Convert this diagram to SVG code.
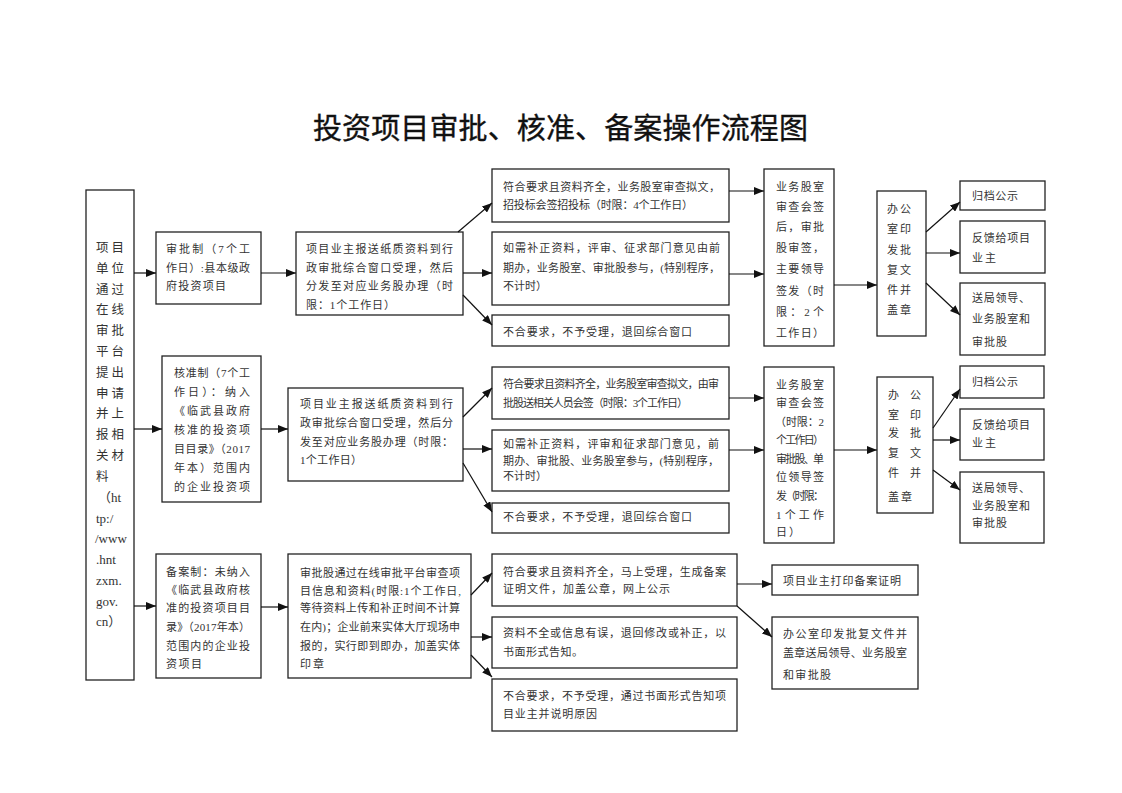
<svg xmlns="http://www.w3.org/2000/svg" width="1122" height="793" viewBox="0 0 1122 793">
<style>
.box{fill:#fff;stroke:#222;stroke-width:1.3}
.t{font-family:"Liberation Serif","Noto Sans CJK SC",serif;font-size:11px;fill:#333}
.l{font-family:"Liberation Serif","Noto Sans CJK SC",serif;font-size:12.5px;fill:#333}
.lat{font-family:"Liberation Serif","Noto Sans CJK SC",serif;font-size:13px;fill:#333}
.title{font-family:"Noto Sans CJK SC",sans-serif;font-size:29px;fill:#111;stroke:#111;stroke-width:0.35;font-weight:400}
.c line{stroke:#111;stroke-width:1.2;fill:none;marker-end:url(#ah)}
</style>
<defs>
<marker id="ah" markerUnits="userSpaceOnUse" markerWidth="10" markerHeight="8" refX="10" refY="4" orient="auto">
<path d="M0,0 L10,4 L0,8 z" fill="#111"/>
</marker>
</defs>
<rect width="1122" height="793" fill="#fff"/>
<text class="title" x="313" y="139" textLength="495" lengthAdjust="spacing">投资项目审批、核准、备案操作流程图</text>

<g id="n-left">
<rect class="box" x="86" y="190" width="48" height="490"/>
<text class="l" x="96" y="252" textLength="28">项目</text>
<text class="l" x="96" y="273" textLength="28">单位</text>
<text class="l" x="96" y="294" textLength="28">通过</text>
<text class="l" x="96" y="314" textLength="28">在线</text>
<text class="l" x="96" y="335" textLength="28">审批</text>
<text class="l" x="96" y="356" textLength="28">平台</text>
<text class="l" x="96" y="377" textLength="28">提出</text>
<text class="l" x="96" y="398" textLength="28">申请</text>
<text class="l" x="96" y="418" textLength="28">并上</text>
<text class="l" x="96" y="439" textLength="28">报相</text>
<text class="l" x="96" y="460" textLength="28">关材</text>
<text class="l" x="96" y="481">料</text>
<text class="lat" x="98" y="502">（ht</text>
<text class="lat" x="96" y="523">tp:/</text>
<text class="lat" x="95" y="543">/www</text>
<text class="lat" x="96" y="564">.hnt</text>
<text class="lat" x="96" y="585">zxm.</text>
<text class="lat" x="96" y="606">gov.</text>
<text class="lat" x="96" y="626">cn）</text>
</g>

<g id="n-r1-type">
<rect class="box" x="156" y="232" width="105" height="72"/>
<text class="t" x="166" y="253" textLength="84">审批制（7个工</text>
<text class="t" x="166" y="272" textLength="84">作日）:县本级政</text>
<text class="t" x="166" y="290" textLength="60">府投资项目</text>
</g>
<g id="n-r1-submit">
<rect class="box" x="296" y="232" width="167" height="83"/>
<text class="t" x="306" y="253" textLength="147">项目业主报送纸质资料到行</text>
<text class="t" x="306" y="271.5" textLength="147">政审批综合窗口受理，然后</text>
<text class="t" x="306" y="290" textLength="147">分发至对应业务股办理（时</text>
<text class="t" x="306" y="308.5" textLength="89">限：1个工作日）</text>
</g>
<g id="n-r1-ok">
<rect class="box" x="492" y="169" width="237" height="53"/>
<text class="t" x="503" y="191" textLength="217">符合要求且资料齐全，业务股室审查拟文，</text>
<text class="t" x="503" y="209" textLength="190">招投标会签招投标（时限：4个工作日）</text>
</g>
<g id="n-r1-fix">
<rect class="box" x="492" y="232" width="237" height="73"/>
<text class="t" x="503" y="252" textLength="217">如需补正资料，评审、征求部门意见由前</text>
<text class="t" x="503" y="272" textLength="217">期办，业务股室、审批股参与，(特别程序，</text>
<text class="t" x="503" y="290" textLength="44">不计时）</text>
</g>
<g id="n-r1-no">
<rect class="box" x="492" y="315" width="237" height="31"/>
<text class="t" x="503" y="336" textLength="189">不合要求，不予受理，退回综合窗口</text>
</g>
<g id="n-r1-sign">
<rect class="box" x="764" y="169" width="70" height="177"/>
<text class="t" x="776" y="191" textLength="48">业务股室</text>
<text class="t" x="776" y="211" textLength="48">审查会签</text>
<text class="t" x="776" y="231" textLength="48">后，审批</text>
<text class="t" x="776" y="252" textLength="48">股审签，</text>
<text class="t" x="776" y="273" textLength="48">主要领导</text>
<text class="t" x="776" y="295" textLength="48">签发（时</text>
<text class="t" x="776" y="316" textLength="48">限：2个</text>
<text class="t" x="776" y="337" textLength="48">工作日）</text>
</g>
<g id="n-r1-office">
<rect class="box" x="877" y="191" width="49" height="145"/>
<text class="t" x="887" y="213" textLength="24">办公</text>
<text class="t" x="887" y="233" textLength="24">室印</text>
<text class="t" x="887" y="254" textLength="24">发批</text>
<text class="t" x="887" y="274" textLength="24">复文</text>
<text class="t" x="887" y="294" textLength="24">件并</text>
<text class="t" x="887" y="314" textLength="24">盖章</text>
</g>
<g id="n-r1-archive">
<rect class="box" x="960" y="181" width="85" height="29"/>
<text class="t" x="972" y="200" textLength="46">归档公示</text>
</g>
<g id="n-r1-feedback">
<rect class="box" x="960" y="221" width="85" height="52"/>
<text class="t" x="972" y="242" textLength="58">反馈给项目</text>
<text class="t" x="972" y="262" textLength="24">业主</text>
</g>
<g id="n-r1-send">
<rect class="box" x="960" y="283" width="85" height="72"/>
<text class="t" x="972" y="302" textLength="58">送局领导、</text>
<text class="t" x="972" y="323" textLength="58">业务股室和</text>
<text class="t" x="972" y="346" textLength="35">审批股</text>
</g>

<g id="n-r2-type">
<rect class="box" x="162" y="356" width="99" height="146"/>
<text class="t" x="174" y="377" textLength="76">核准制（7个工</text>
<text class="t" x="174" y="396" textLength="76">作日）：纳入</text>
<text class="t" x="174" y="415" textLength="76">《临武县政府</text>
<text class="t" x="174" y="434" textLength="76">核准的投资项</text>
<text class="t" x="174" y="453" textLength="76">目目录》（2017</text>
<text class="t" x="174" y="472" textLength="76">年本）范围内</text>
<text class="t" x="174" y="491" textLength="76">的企业投资项</text>
</g>
<g id="n-r2-submit">
<rect class="box" x="288" y="388" width="175" height="93"/>
<text class="t" x="300" y="408" textLength="153">项目业主报送纸质资料到行</text>
<text class="t" x="300" y="427" textLength="153">政审批综合窗口受理，然后分</text>
<text class="t" x="300" y="446" textLength="153">发至对应业务股办理（时限：</text>
<text class="t" x="300" y="464" textLength="62">1个工作日）</text>
</g>
<g id="n-r2-ok">
<rect class="box" x="492" y="367" width="237" height="52"/>
<text class="t" x="503" y="388" textLength="216">符合要求且资料齐全，业务股室审查拟文，由审</text>
<text class="t" x="503" y="407" textLength="185">批股送相关人员会签（时限：3个工作日）</text>
</g>
<g id="n-r2-fix">
<rect class="box" x="492" y="430" width="237" height="61"/>
<text class="t" x="503" y="448" textLength="216">如需补正资料，评审和征求部门意见，前</text>
<text class="t" x="503" y="465" textLength="216">期办、审批股、业务股室参与，(特别程序，</text>
<text class="t" x="503" y="480" textLength="44">不计时）</text>
</g>
<g id="n-r2-no">
<rect class="box" x="492" y="503" width="237" height="30"/>
<text class="t" x="503" y="521" textLength="189">不合要求，不予受理，退回综合窗口</text>
</g>
<g id="n-r2-sign">
<rect class="box" x="764" y="367" width="70" height="176"/>
<text class="t" x="776" y="389" textLength="48">业务股室</text>
<text class="t" x="776" y="407" textLength="48">审查会签</text>
<text class="t" x="775" y="426" textLength="49">（时限：2</text>
<text class="t" x="776" y="444" textLength="48">个工作日）</text>
<text class="t" x="776" y="463" textLength="48">审批股、单</text>
<text class="t" x="776" y="481" textLength="48">位领导签</text>
<text class="t" x="776" y="500" textLength="48">发（时限：</text>
<text class="t" x="776" y="519" textLength="48">1个工作</text>
<text class="t" x="776" y="536" textLength="24">日）</text>
</g>
<g id="n-r2-office">
<rect class="box" x="877" y="377" width="56" height="136"/>
<text class="t" x="888" y="399" textLength="33">办公</text>
<text class="t" x="888" y="419" textLength="33">室印</text>
<text class="t" x="888" y="437" textLength="33">发批</text>
<text class="t" x="888" y="457" textLength="33">复文</text>
<text class="t" x="888" y="477" textLength="33">件并</text>
<text class="t" x="888" y="501" textLength="24">盖章</text>
</g>
<g id="n-r2-archive">
<rect class="box" x="960" y="366" width="84" height="32"/>
<text class="t" x="972" y="386" textLength="46">归档公示</text>
</g>
<g id="n-r2-feedback">
<rect class="box" x="960" y="409" width="84" height="51"/>
<text class="t" x="972" y="429" textLength="58">反馈给项目</text>
<text class="t" x="972" y="447" textLength="24">业主</text>
</g>
<g id="n-r2-send">
<rect class="box" x="960" y="472" width="84" height="71"/>
<text class="t" x="972" y="492" textLength="58">送局领导、</text>
<text class="t" x="972" y="510" textLength="58">业务股室和</text>
<text class="t" x="972" y="527" textLength="35">审批股</text>
</g>

<g id="n-r3-type">
<rect class="box" x="156" y="554" width="105" height="124"/>
<text class="t" x="166" y="576" textLength="84">备案制：未纳入</text>
<text class="t" x="166" y="594" textLength="84">《临武县政府核</text>
<text class="t" x="166" y="612" textLength="84">准的投资项目目</text>
<text class="t" x="166" y="631" textLength="84">录》（2017年本）</text>
<text class="t" x="166" y="650" textLength="84">范围内的企业投</text>
<text class="t" x="166" y="668" textLength="36">资项目</text>
</g>
<g id="n-r3-online">
<rect class="box" x="288" y="554" width="183" height="124"/>
<text class="t" x="300" y="577" textLength="160">审批股通过在线审批平台审查项</text>
<text class="t" x="300" y="595" textLength="161">目信息和资料(时限:1个工作日,</text>
<text class="t" x="300" y="612" textLength="160">等待资料上传和补正时间不计算</text>
<text class="t" x="300" y="631" textLength="160">在内)；企业前来实体大厅现场申</text>
<text class="t" x="300" y="650" textLength="160">报的，实行即到即办，加盖实体</text>
<text class="t" x="300" y="668" textLength="24">印章</text>
</g>
<g id="n-r3-ok">
<rect class="box" x="492" y="554" width="245" height="52"/>
<text class="t" x="503" y="576" textLength="223">符合要求且资料齐全，马上受理，生成备案</text>
<text class="t" x="503" y="593" textLength="167">证明文件，加盖公章，网上公示</text>
</g>
<g id="n-r3-fix">
<rect class="box" x="492" y="617" width="245" height="51"/>
<text class="t" x="503" y="637" textLength="223">资料不全或信息有误，退回修改或补正，以</text>
<text class="t" x="503" y="656" textLength="80">书面形式告知。</text>
</g>
<g id="n-r3-no">
<rect class="box" x="492" y="679" width="245" height="52"/>
<text class="t" x="503" y="700" textLength="223">不合要求，不予受理，通过书面形式告知项</text>
<text class="t" x="503" y="718" textLength="94">目业主并说明原因</text>
</g>
<g id="n-r3-print">
<rect class="box" x="772" y="565" width="146" height="30"/>
<text class="t" x="783" y="585" textLength="118">项目业主打印备案证明</text>
</g>
<g id="n-r3-office">
<rect class="box" x="772" y="617" width="146" height="72"/>
<text class="t" x="783" y="638" textLength="124">办公室印发批复文件并</text>
<text class="t" x="783" y="657" textLength="124">盖章送局领导、业务股室</text>
<text class="t" x="783" y="679" textLength="48">和审批股</text>
</g>

<g id="connectors" class="c">
<line x1="134" y1="273" x2="156" y2="273"/>
<line x1="261" y1="273" x2="296" y2="273"/>
<line x1="458" y1="232" x2="492" y2="203"/>
<line x1="463" y1="273" x2="492" y2="273"/>
<line x1="463" y1="295" x2="492" y2="325"/>
<line x1="729" y1="191" x2="764" y2="191"/>
<line x1="729" y1="274" x2="764" y2="274"/>
<line x1="834" y1="285" x2="877" y2="285"/>
<line x1="926" y1="232" x2="960" y2="202"/>
<line x1="926" y1="253" x2="960" y2="253"/>
<line x1="926" y1="283" x2="960" y2="315"/>

<line x1="134" y1="429" x2="162" y2="429"/>
<line x1="261" y1="429" x2="288" y2="429"/>
<line x1="463" y1="417" x2="492" y2="388"/>
<line x1="463" y1="449" x2="492" y2="449"/>
<line x1="463" y1="463" x2="492" y2="512"/>
<line x1="729" y1="398" x2="764" y2="398"/>
<line x1="729" y1="450" x2="764" y2="450"/>
<line x1="834" y1="450" x2="877" y2="450"/>
<line x1="933" y1="428" x2="960" y2="389"/>
<line x1="933" y1="440" x2="960" y2="440"/>
<line x1="933" y1="470" x2="960" y2="490"/>

<line x1="134" y1="606" x2="156" y2="606"/>
<line x1="261" y1="607" x2="288" y2="607"/>
<line x1="471" y1="595" x2="492" y2="573"/>
<line x1="471" y1="637" x2="492" y2="637"/>
<line x1="471" y1="655" x2="492" y2="677"/>
<line x1="737" y1="584" x2="772" y2="584"/>
<line x1="737" y1="606" x2="772" y2="637"/>
</g>
</svg>
